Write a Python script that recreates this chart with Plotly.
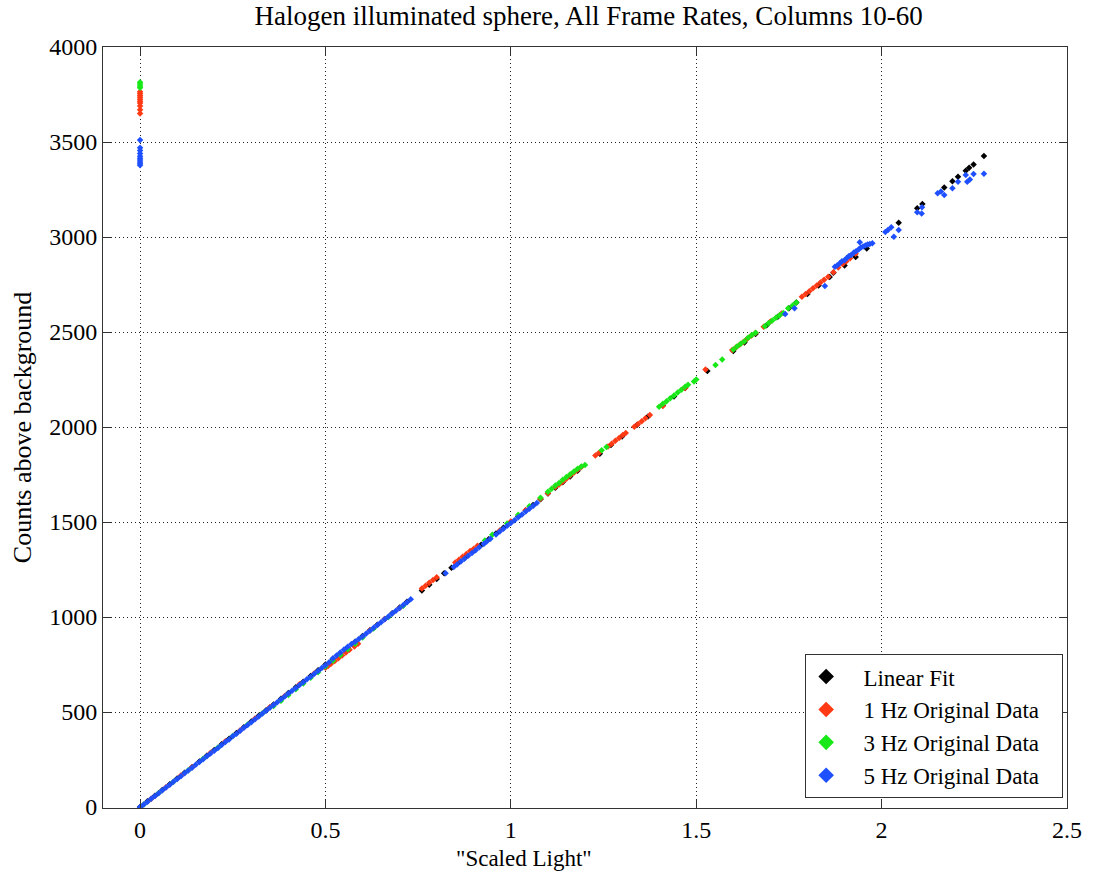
import plotly.graph_objects as go

# ---------------- data ----------------
fit_x = [0.00,0.02,0.04,0.06,0.08,0.10,0.12,0.14,0.16,0.18,0.20,0.22,0.24,0.26,0.28,0.30,0.32,0.34,0.36,0.38,
         0.40,0.42,0.44,0.46,0.48,0.50,0.52,0.54,0.56,0.58,0.60,0.62,0.64,0.66,0.68,0.70,0.72,
         0.76,0.78,0.80,0.82,0.84,0.86,0.88,0.90,0.92,0.94,0.96,0.98,1.00,1.02,1.04,1.06,1.08,1.10,1.12,1.14,1.16,1.18,
         1.24,1.27,1.30,1.34,1.37,1.41,1.44,1.47,1.53,1.60,1.63,1.66,1.69,1.72,1.75,1.77,1.80,1.83,1.86,1.87,1.90,1.93,1.96,
         2.046,2.096,2.110,2.169,2.191,2.206,2.227,2.236,2.248,2.276]
fit_y = [0,30,60,90,120,150,180,210,240,270,300,330,360,390,420,450,480,510,540,570,
         600,630,660,690,720,750,780,810,840,870,900,930,960,990,1020,1050,1080,
         1140,1170,1200,1230,1260,1290,1320,1350,1380,1410,1440,1470,1500,1530,1560,1590,1620,1650,1680,1710,1740,1770,
         1860,1905,1950,2010,2055,2115,2160,2205,2295,2400,2445,2490,2535,2580,2625,2655,2700,2745,2790,2812,2850,2895,2940,
         3075,3151,3174,3261,3293,3317,3349,3365,3382,3426]

hz1_x = [0.0,0.0,0.0,0.0,0.0,0.0,0.0,0.0,0.0,0.0,
         0.03,0.07,0.11,0.14,0.19,0.23,0.27,0.31,0.35,0.39,0.43,0.47,
         0.500,0.507,0.515,0.525,0.535,0.545,0.555,0.565,0.578,0.588,0.62,0.66,0.70,
         0.760,0.770,0.780,0.790,0.800,0.850,0.860,0.870,0.880,0.890,0.900,0.910,0.970,1.000,1.040,
         1.080,1.100,1.120,1.130,1.140,1.150,1.160,1.170,1.180,1.190,
         1.228,1.238,1.262,1.272,1.282,1.292,1.302,1.310,1.333,1.343,1.353,1.363,1.375,1.410,1.470,
         1.525,1.597,1.607,1.617,1.627,1.637,1.648,1.660,1.682,1.700,1.730,
         1.785,1.795,1.805,1.815,1.825,1.835,1.845,1.856,1.870,1.883,1.895,1.905,1.915,1.930]
hz1_y = [3765,3755,3745,3735,3725,3715,3705,3690,3670,3650,
         44,104,166,210,286,346,404,466,526,584,646,704,
         733,742,754,768,783,798,814,828,845,860,930,990,1048,
         1150,1165,1180,1195,1210,1287,1302,1317,1332,1347,1360,1375,1455,1503,1563,
         1622,1652,1684,1698,1712,1728,1745,1760,1775,1790,
         1850,1865,1898,1912,1928,1942,1958,1968,2002,2016,2031,2046,2063,2110,2205,
         2303,2405,2418,2433,2448,2463,2480,2495,2528,2555,2598,
         2686,2700,2715,2730,2745,2760,2775,2791,2815,2839,2858,2872,2888,2912]

hz3_x = [0.0,0.0,0.0,0.0,
         0.01,0.05,0.09,0.13,0.17,0.21,0.25,0.29,0.33,0.36,0.38,0.40,0.42,0.44,0.46,0.48,
         0.50,0.52,0.54,0.56,0.58,0.60,0.63,0.67,0.71,
         0.93,0.95,0.99,1.02,1.05,1.08,1.10,1.11,1.12,1.13,1.14,1.15,1.16,1.17,1.18,1.19,1.20,
         1.245,1.258,1.40,1.41,1.42,1.43,1.44,1.45,1.46,1.47,1.478,1.494,1.50,1.552,1.570,
         1.60,1.61,1.62,1.63,1.64,1.65,1.66,1.685,1.695,1.705,1.715,1.725,1.735,1.748,1.760,1.770]
hz3_y = [3815,3805,3795,3785,
         14,74,133,194,254,313,374,434,494,532,560,590,620,650,680,710,
         740,770,800,830,860,892,940,1000,1060,
         1403,1433,1492,1538,1583,1628,1660,1675,1692,1706,1722,1737,1752,1766,1780,1792,1800,
         1878,1895,2107,2122,2136,2152,2166,2182,2196,2212,2222,2240,2250,2326,2356,
         2408,2424,2438,2452,2470,2484,2496,2530,2546,2560,2575,2588,2600,2625,2640,2655]

hz5_x = [0.0,0.0,0.0,0.0,0.0,0.0,0.0,0.0,0.0,0.0,
         0.00,0.01,0.02,0.03,0.04,0.05,0.06,0.07,0.08,0.09,0.10,0.11,0.12,0.13,0.14,0.15,0.16,0.17,0.18,0.19,
         0.20,0.21,0.22,0.23,0.24,0.25,0.26,0.27,0.28,0.29,0.30,0.31,0.32,0.33,0.34,0.35,0.36,0.37,0.38,0.39,
         0.40,0.41,0.42,0.43,0.44,0.45,0.46,0.47,0.48,0.49,0.50,0.51,0.52,0.53,0.54,0.55,0.56,0.57,0.58,0.59,
         0.60,0.61,0.62,0.63,0.64,0.65,0.66,0.67,0.68,0.69,0.70,0.71,0.72,0.73,
         0.824,0.846,0.855,0.865,0.875,0.885,0.895,0.905,0.915,0.927,0.935,0.945,0.960,0.970,0.980,0.990,
         1.000,1.010,1.020,1.030,1.040,1.050,1.060,1.070,
         1.740,1.765,1.847,1.874,1.880,1.887,1.893,1.900,1.906,1.912,1.918,1.925,1.931,1.938,1.941,1.944,
         1.950,1.956,1.962,1.968,1.975,
         2.010,2.017,2.026,2.033,2.046,2.096,2.108,2.109,2.151,2.160,2.169,2.191,2.206,2.227,2.231,2.238,
         2.248,2.276]
hz5_y = [3510,3470,3455,3440,3425,3415,3405,3395,3385,3378,
         0,13,28,44,58,73,88,103,118,133,147,162,178,193,207,222,237,252,267,282,
         296,311,327,342,356,372,386,401,417,432,446,462,477,492,507,522,537,552,567,582,
         597,612,627,642,657,672,686,702,716,732,746,762,782,798,814,829,844,858,870,884,
         898,913,928,943,958,973,988,1003,1018,1033,1048,1063,1078,1093,
         1230,1263,1277,1292,1307,1322,1337,1352,1367,1385,1397,1412,1435,1450,1465,1480,
         1495,1510,1525,1540,1555,1570,1585,1600,
         2595,2625,2742,2844,2850,2862,2872,2878,2890,2900,2905,2918,2925,2934,2972,2945,
         2950,2955,2960,2963,2967,
         3026,3037,3051,3002,3037,3130,3124,3156,3230,3240,3221,3256,3291,3326,3291,3303,
         3331,3333]

series = [
    ("Linear Fit", fit_x, fit_y, "#000000"),
    ("1 Hz Original Data", hz1_x, hz1_y, "#ff3a14"),
    ("3 Hz Original Data", hz3_x, hz3_y, "#18e818"),
    ("5 Hz Original Data", hz5_x, hz5_y, "#1f50ff"),
]

x_ticks = [0, 0.5, 1, 1.5, 2, 2.5]
x_tick_text = ["0", "0.5", "1", "1.5", "2", "2.5"]
y_ticks = [0, 500, 1000, 1500, 2000, 2500, 3000, 3500, 4000]

FONT = "Liberation Serif, Times New Roman, serif"
PAD_L = "\u00a0\u00a0\u00a0"
PAD_R = "\u00a0\u00a0\u00a0"

fig = go.Figure()
for name, xs, ys, col in series:
    fig.add_trace(go.Scatter(
        x=xs, y=ys, mode="markers", name=PAD_L + name + PAD_R,
        marker=dict(symbol="diamond", size=5, color=col, line=dict(width=0)),
    ))

axis_common = dict(
    showline=True, linecolor="#333333", linewidth=1, mirror="ticks",
    ticks="inside", ticklen=8, tickcolor="#333333",
    showgrid=True, gridcolor="#222222", griddash="1px,3px", gridwidth=1,
    zeroline=False,
    tickfont=dict(family=FONT, size=24, color="black"),
)

fig.update_layout(
    width=1094, height=880,
    margin=dict(l=103, r=19, t=47, b=72),
    paper_bgcolor="white", plot_bgcolor="white",
    font=dict(family=FONT, size=20, color="black"),
    title=dict(text="Halogen illuminated sphere, All Frame Rates, Columns 10-60",
               x=0.538, xanchor="center", y=0.982, yanchor="middle",
               font=dict(family=FONT, size=27, color="black")),
    xaxis=dict(range=[-0.1, 2.5], tickvals=x_ticks, ticktext=x_tick_text,
               **axis_common),
    yaxis=dict(range=[-5, 4000], tickvals=y_ticks,
               **axis_common),
    legend=dict(x=0.996, y=0.013, xanchor="right", yanchor="bottom",
                bgcolor="white", bordercolor="#333333", borderwidth=1,
                font=dict(family=FONT, size=23, color="black"),
                itemsizing="constant", tracegroupgap=0),
    showlegend=True,
    annotations=[
        dict(text='"Scaled Light"', xref="paper", yref="paper",
             x=0.437, y=-0.066, xanchor="center", yanchor="middle",
             showarrow=False, font=dict(family=FONT, size=23, color="black")),
        dict(text="Counts above background", xref="paper", yref="paper",
             x=-0.0833, y=0.5, xanchor="center", yanchor="middle", textangle=-90,
             showarrow=False, font=dict(family=FONT, size=26, color="black")),
    ],
)

fig.write_html("out.html")
